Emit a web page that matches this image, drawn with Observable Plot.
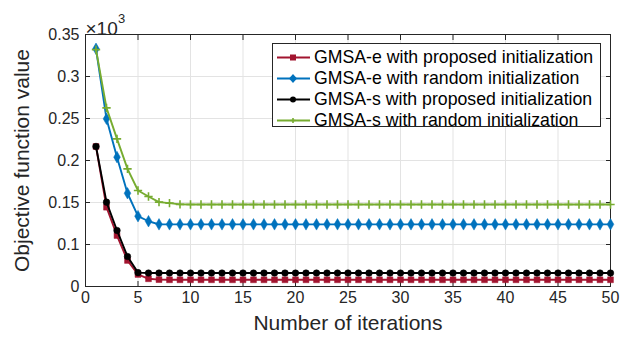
<!DOCTYPE html>
<html>
<head>
<meta charset="utf-8">
<script src="https://cdn.jsdelivr.net/npm/d3@7"></script>
<script src="https://cdn.jsdelivr.net/npm/@observablehq/plot@0.6"></script>
<style>
  html, body { margin: 0; padding: 0; background: #fff; }
  #wrap { position: relative; width: 636px; height: 343px; font-family: "Liberation Sans", Arial, Helvetica, sans-serif; }
  #legend { position: absolute; left: 272px; top: 43px; width: 329px; height: 84px; background: #fff; border: 1px solid #262626; box-sizing: border-box; }
  .row { position: absolute; left: 0; height: 21px; display: flex; align-items: center; font-size: 17.7px; color: #000; white-space: nowrap; }
  .row svg { display: block; margin-left: 4px; margin-right: 4px; }
</style>
</head>
<body>
<div id="wrap"></div>
<script>
// ---- data ----
const iterations = Array.from({length: 50}, (_, i) => i + 1);
const seriesNames = [
  "GMSA-e with proposed initialization",
  "GMSA-e with random initialization",
  "GMSA-s with proposed initialization",
  "GMSA-s with random initialization"
];
const eProposed = [0.2167,0.1444,0.1107,0.0810,0.0643,0.0592,0.0582,0.0580,0.0580,0.0580,
  0.0580,0.0580,0.0580,0.0580,0.0580,0.0580,0.0580,0.0580,0.0580,0.0580,
  0.0580,0.0580,0.0580,0.0580,0.0580,0.0580,0.0580,0.0580,0.0580,0.0580,
  0.0580,0.0580,0.0580,0.0580,0.0580,0.0580,0.0580,0.0580,0.0580,0.0580,
  0.0580,0.0580,0.0580,0.0580,0.0580,0.0580,0.0580,0.0580,0.0580,0.0580];
const eRandom = [0.3330,0.2496,0.2040,0.1610,0.1337,0.1277,0.1240,0.1240,0.1240,0.1240,
  0.1240,0.1240,0.1240,0.1240,0.1240,0.1240,0.1240,0.1240,0.1240,0.1240,
  0.1240,0.1240,0.1240,0.1240,0.1240,0.1240,0.1240,0.1240,0.1240,0.1240,
  0.1240,0.1240,0.1240,0.1240,0.1240,0.1240,0.1240,0.1240,0.1240,0.1240,
  0.1240,0.1240,0.1240,0.1240,0.1240,0.1240,0.1240,0.1240,0.1240,0.1240];
const sProposed = [0.2167,0.1504,0.1167,0.0857,0.0665,0.0660,0.0660,0.0660,0.0660,0.0660,
  0.0660,0.0660,0.0660,0.0660,0.0660,0.0660,0.0660,0.0660,0.0660,0.0660,
  0.0660,0.0660,0.0660,0.0660,0.0660,0.0660,0.0660,0.0660,0.0660,0.0660,
  0.0660,0.0660,0.0660,0.0660,0.0660,0.0660,0.0660,0.0660,0.0660,0.0660,
  0.0660,0.0660,0.0660,0.0660,0.0660,0.0660,0.0660,0.0660,0.0660,0.0660];
const sRandom = [0.3320,0.2627,0.2258,0.1900,0.1643,0.1571,0.1504,0.1492,0.1478,0.1476,
  0.1476,0.1476,0.1476,0.1476,0.1476,0.1476,0.1476,0.1476,0.1476,0.1476,
  0.1476,0.1476,0.1476,0.1476,0.1476,0.1476,0.1476,0.1476,0.1476,0.1476,
  0.1476,0.1476,0.1476,0.1476,0.1476,0.1476,0.1476,0.1476,0.1476,0.1476,
  0.1476,0.1476,0.1476,0.1476,0.1476,0.1476,0.1476,0.1476,0.1476,0.1476];
const xTicks = [0,5,10,15,20,25,30,35,40,45,50];
const yTicks = [0.05,0.1,0.15,0.2,0.25,0.3,0.35];
const yTickLabels = ["0","0.1","0.15","0.2","0.25","0.3","0.35"];
const colors = ["#A2142F", "#0072BD", "#000000", "#77AC30"];
const symbols = ["square", "diamond", "circle", "plus"];
const xLabel = "Number of iterations";
const yLabel = "Objective function value";
const exponentBase = "×10";
const exponentPower = "3";

const allValues = [eProposed, eRandom, sProposed, sRandom];
const table = allValues.flatMap((vals, s) => vals.map((v, i) => ({x: iterations[i], y: v, s})));

const axisColor = "#262626";
const marks = [
  Plot.ruleX(xTicks.slice(1, -1), {stroke: "#e3e3e3", strokeWidth: 1}),
  Plot.ruleY(yTicks.slice(1, -1), {stroke: "#e3e3e3", strokeWidth: 1}),
  Plot.frame({stroke: axisColor, strokeWidth: 1}),
  Plot.axisX({ticks: xTicks, tickSize: -5, tickPadding: 10, fontSize: 16, label: null, stroke: axisColor, fill: axisColor}),
  Plot.axisX({anchor: "top", ticks: xTicks, tickSize: -5, fill: "none", label: null, stroke: axisColor}),
  Plot.axisY({ticks: yTicks, tickSize: -5, tickPadding: 11, fontSize: 16, label: null, stroke: axisColor, fill: axisColor,
    tickFormat: d => yTickLabels[yTicks.indexOf(d)]}),
  Plot.axisY({anchor: "right", ticks: yTicks, tickSize: -5, fill: "none", label: null, stroke: axisColor}),
];
allValues.forEach((vals, s) => {
  const data = table.filter(d => d.s === s);
  marks.push(Plot.line(data, {x: "x", y: "y", stroke: colors[s], strokeWidth: 1.9}));
  if (symbols[s] === "plus") {
    marks.push(Plot.dot(data, {x: "x", y: "y", symbol: "plus", stroke: colors[s], strokeWidth: 1.6, r: 2.8}));
  } else {
    marks.push(Plot.dot(data, {x: "x", y: "y", symbol: symbols[s], fill: colors[s], stroke: colors[s], strokeWidth: 0.5, r: s === 1 ? 3.5 : 3.3}));
  }
});
marks.push(
  Plot.text([xLabel], {frameAnchor: "bottom", dy: 43, fontSize: 21, fill: axisColor, textAnchor: "middle", text: d => d}),
  Plot.text([yLabel], {frameAnchor: "left", dx: -63, rotate: -90, fontSize: 21, fill: axisColor, textAnchor: "middle", text: d => d}),
  Plot.text([exponentBase], {frameAnchor: "top-left", dy: -13, dx: 0, textAnchor: "start", fontSize: 19, fill: axisColor, text: d => d}),
  Plot.text([exponentPower], {frameAnchor: "top-left", dy: -21, dx: 32.5, textAnchor: "start", fontSize: 13, fill: axisColor, text: d => d})
);

const chart = Plot.plot({
  width: 636,
  height: 343,
  marginLeft: 85,
  marginRight: 26,
  marginTop: 34,
  marginBottom: 57,
  style: {fontFamily: '"Liberation Sans", Arial, Helvetica, sans-serif', background: "#fff", overflow: "visible"},
  x: {domain: [0, 50]},
  y: {domain: [0.05, 0.35]},
  marks
});
const wrap = document.getElementById("wrap");
wrap.appendChild(chart);

// legend
const legend = document.createElement("div");
legend.id = "legend";
seriesNames.forEach((name, i) => {
  const row = document.createElement("div");
  row.className = "row";
  row.style.top = (2.5 + i * 21.3) + "px";
  const sym = symbols[i];
  let marker;
  if (sym === "square") marker = `<rect x="13" y="7.5" width="6" height="6" fill="${colors[i]}"/>`;
  else if (sym === "diamond") marker = `<path d="M16 6 L20 10.5 L16 15 L12 10.5 Z" fill="${colors[i]}"/>`;
  else if (sym === "circle") marker = `<circle cx="16" cy="10.5" r="3" fill="${colors[i]}"/>`;
  else marker = `<path d="M13.5 10.5 H18.5 M16 8 V13" stroke="${colors[i]}" stroke-width="1.6"/>`;
  row.innerHTML = `<svg width="33" height="21"><line x1="0" y1="10.5" x2="33" y2="10.5" stroke="${colors[i]}" stroke-width="1.8"/>${marker}</svg><span>${name}</span>`;
  legend.appendChild(row);
});
wrap.appendChild(legend);
</script>
</body>
</html>
